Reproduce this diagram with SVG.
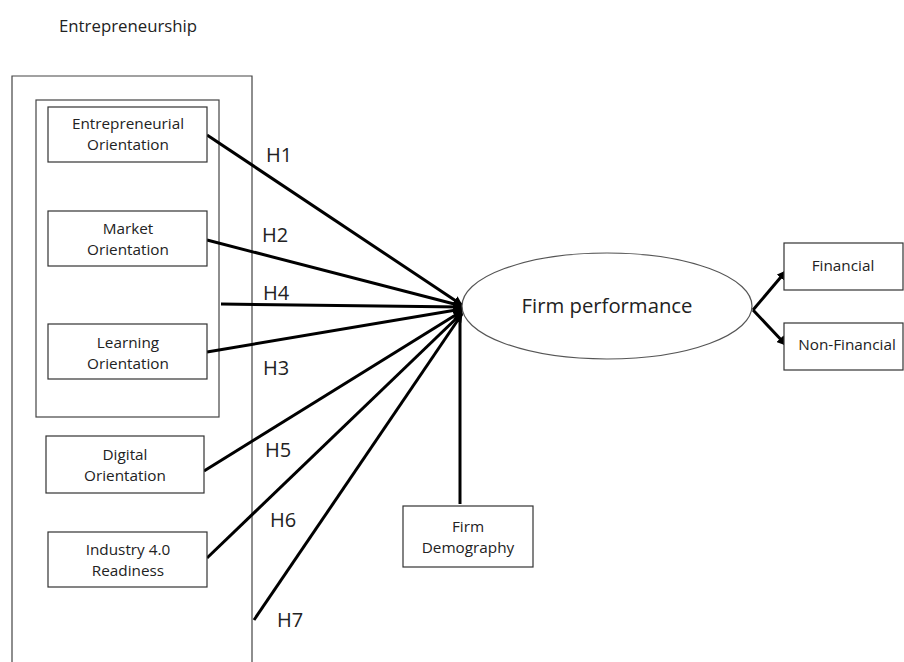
<svg xmlns="http://www.w3.org/2000/svg" width="904" height="662" viewBox="0 0 904 662">
  <defs>
    <marker id="arrow" viewBox="0 0 10 10" refX="9" refY="5" markerWidth="3.2" markerHeight="3.2" orient="auto" markerUnits="strokeWidth">
      <path d="M0,0 L10,5 L0,10 z" fill="#000"/>
    </marker>
    <style>
      .frame { fill: none; stroke: #444; stroke-width: 1.2; }
      .box { fill: #fff; stroke: #333; stroke-width: 1.2; }
      .lbl { font-family: "Open Sans", "Noto Sans", sans-serif; font-size: 15.3px; fill: #222; text-anchor: middle; }
      .hyp { font-family: "Open Sans", "Noto Sans", sans-serif; font-size: 20px; fill: #222; }
      .edge { stroke: #000; stroke-width: 3; fill: none; marker-end: url(#arrow); }
    </style>
  </defs>
  <rect width="904" height="662" fill="#fff"/>

  <text x="59" y="32" class="lbl" style="text-anchor:start;font-size:16.8px">Entrepreneurship</text>

  <!-- outer and inner grouping frames -->
  <g id="entrepreneurship-frame">
    <path class="frame" d="M12,670 V76 H252 V670"/>
  </g>
  <g id="orientation-frame">
    <rect class="frame" x="36" y="100" width="183" height="317"/>
  </g>

  <!-- connectors -->
  <g id="connectors">
    <line class="edge" x1="207" y1="135" x2="462" y2="305"/>
    <line class="edge" x1="207" y1="240" x2="462" y2="306"/>
    <line class="edge" x1="221" y1="304" x2="462" y2="307"/>
    <line class="edge" x1="207" y1="352" x2="462" y2="309"/>
    <line class="edge" x1="204" y1="471" x2="462" y2="311"/>
    <line class="edge" x1="207" y1="558" x2="462" y2="313"/>
    <line class="edge" x1="254" y1="620" x2="462" y2="314"/>
    <line class="edge" x1="460" y1="504" x2="460" y2="303"/>
    <line class="edge" x1="753" y1="310" x2="786" y2="271"/>
    <line class="edge" x1="753" y1="310" x2="786" y2="345"/>
  </g>

  <!-- hypothesis labels -->
  <g id="hypotheses">
    <text class="hyp" x="266" y="162">H1</text>
    <text class="hyp" x="262" y="242">H2</text>
    <text class="hyp" x="263" y="300">H4</text>
    <text class="hyp" x="263" y="375">H3</text>
    <text class="hyp" x="265" y="457">H5</text>
    <text class="hyp" x="270" y="527">H6</text>
    <text class="hyp" x="277" y="627">H7</text>
  </g>

  <g id="entrepreneurial-orientation">
    <rect class="box" x="48" y="107" width="159" height="55"/>
    <text class="lbl" x="128" y="129">Entrepreneurial</text>
    <text class="lbl" x="128" y="150">Orientation</text>
  </g>
  <g id="market-orientation">
    <rect class="box" x="48" y="211" width="159" height="55"/>
    <text class="lbl" x="128" y="234">Market</text>
    <text class="lbl" x="128" y="255">Orientation</text>
  </g>
  <g id="learning-orientation">
    <rect class="box" x="48" y="324" width="159" height="55"/>
    <text class="lbl" x="128" y="348">Learning</text>
    <text class="lbl" x="128" y="369">Orientation</text>
  </g>
  <g id="digital-orientation">
    <rect class="box" x="46" y="436" width="158" height="57"/>
    <text class="lbl" x="125" y="460">Digital</text>
    <text class="lbl" x="125" y="481">Orientation</text>
  </g>
  <g id="industry-readiness">
    <rect class="box" x="48" y="532" width="159" height="55"/>
    <text class="lbl" x="128" y="555">Industry 4.0</text>
    <text class="lbl" x="128" y="576">Readiness</text>
  </g>
  <g id="firm-demography">
    <rect class="box" x="403" y="506" width="130" height="61"/>
    <text class="lbl" x="468" y="532">Firm</text>
    <text class="lbl" x="468" y="553">Demography</text>
  </g>
  <g id="firm-performance">
    <ellipse cx="607" cy="306" rx="145" ry="53" fill="#fff" stroke="#555" stroke-width="1.2"/>
    <text class="lbl" x="607" y="313" style="font-size:20.3px">Firm performance</text>
  </g>
  <g id="financial">
    <rect class="box" x="784" y="243" width="119" height="47"/>
    <text class="lbl" x="843" y="271">Financial</text>
  </g>
  <g id="non-financial">
    <rect class="box" x="784" y="323" width="119" height="47"/>
    <text class="lbl" x="847" y="350">Non-Financial</text>
  </g>
</svg>
